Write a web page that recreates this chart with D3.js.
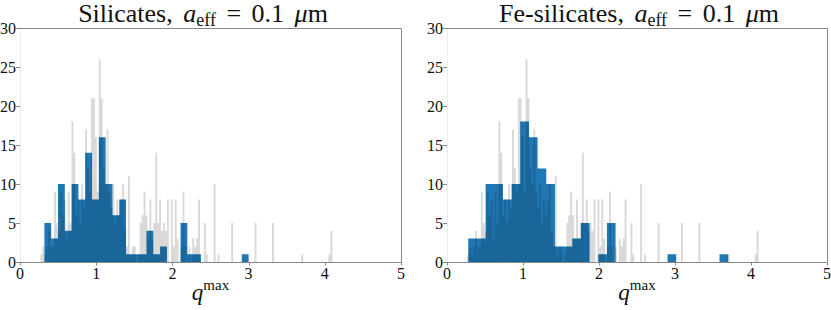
<!DOCTYPE html>
<head>
<meta charset="utf-8">
<style>
body {
  margin: 0;
  background: #fff;
}
svg text {
  font-family: "Liberation Serif", "DejaVu Serif", serif;
  fill: #111;
}
.spine {
  stroke: #888;
  stroke-width: 1;
  fill: none;
}
.tick {
  stroke: #888;
  stroke-width: 1;
}
.bluebars {
  fill: #1f77b4;
}
.graybars {
  fill: #000;
  fill-opacity: 0.15;
}
</style>
</head>
<body>
<script src="https://cdn.jsdelivr.net/npm/d3@7"></script>
<script>
// gray histogram: same in both panels, 150 bins between grayMin and grayMax
var grayMin = 0.267, grayMax = 4.10;
var grayCounts = [
   1, 2, 1, 2, 4, 2, 2, 9, 5, 4,   9, 6, 8, 3, 9, 5,18,14, 6, 8,
   5,10, 7,17,12, 9,21,21,16, 9,  26,21,12,10,17, 9, 7,10, 5, 8,
   6, 8,10, 4, 2,11, 1, 2, 2, 0,   1, 5, 6, 9, 6, 3, 8, 3, 5,14,
   5, 8, 4, 5, 4, 8, 0, 8, 2, 8,   3, 0, 2, 9, 2, 0, 2, 0, 3, 2,
   3, 8, 0, 0, 5, 1, 0, 0, 0,10,   0, 1, 0, 0, 0, 0, 0, 0, 5, 0,
   0, 0, 0, 0, 0, 0, 0, 0, 0, 0,   5, 0, 0, 0, 0, 0, 0, 0, 0, 5,
   0, 0, 0, 0, 0, 0, 0, 0, 0, 0,   0, 0, 0, 0, 1, 0, 0, 0, 0, 0,
   0, 0, 0, 0, 0, 0, 0, 0, 1, 4
];

// blue histograms, 30 bins each
var silMin = 0.32, silMax = 3.00;
var silCounts = [5, 3, 10, 4, 10, 8, 14, 8, 16, 10, 6, 8, 1, 1, 1, 4, 1, 2, 0, 0,
                 5, 1, 1, 0, 0, 0, 0, 0, 0, 1];
var feMin = 0.28, feMax = 3.70;
var feCounts = [3, 3, 10, 10, 8, 10, 18, 16, 12, 10, 2, 2, 3, 5, 0, 1, 5, 0, 0, 0,
                0, 0, 0, 1, 0, 0, 0, 0, 0, 1];

var xTicks = [0, 1, 2, 3, 4, 5];
var yTicks = [0, 5, 10, 15, 20, 25, 30];
var titleNames = ["Silicates, ", "Fe-silicates, "];

var W = 831, H = 310;
var axTop = 28, axBottom = 262;

var svg = d3.select("body").append("svg")
  .attr("width", W)
  .attr("height", H);

function edges(lo, hi, n) {
  return d3.range(n + 1).map(function(i) { return lo + i * (hi - lo) / n; });
}

function barsPath(x, y, e, counts) {
  var d = "";
  counts.forEach(function(c, i) {
    if (!c) return;
    var x0 = x(e[i]), x1 = x(e[i + 1]), y0 = y(0), y1 = y(c);
    d += "M" + x0 + "," + y0 + "H" + x1 + "V" + y1 + "H" + x0 + "Z";
  });
  return d;
}

function panel(left, right, name, lo, hi, counts, titleX) {
  var x = d3.scaleLinear().domain([0, 5]).range([left, right]);
  var y = d3.scaleLinear().domain([0, 30]).range([axBottom, axTop]);
  var g = svg.append("g");

  // faint left spine
  g.append("line").attr("x1", left + 0.5).attr("x2", left + 0.5).attr("y1", axTop).attr("y2", axBottom)
    .attr("stroke", "#ececec");

  g.append("path").attr("class", "bluebars")
    .attr("d", barsPath(x, y, edges(lo, hi, counts.length), counts));
  g.append("path").attr("class", "graybars")
    .attr("d", barsPath(x, y, edges(grayMin, grayMax, grayCounts.length), grayCounts));

  g.append("path").attr("class", "spine")
    .attr("d", "M" + left + "," + (axTop + 0.5) + "H" + (right + 0.5) + "V" + (axBottom + 0.5) + "H" + left);

  // y ticks
  yTicks.forEach(function(t) {
    var yy = Math.round(y(t)) + 0.5;
    g.append("line").attr("class", "tick")
      .attr("x1", left - 4).attr("x2", left).attr("y1", yy).attr("y2", yy)
      .attr("stroke", (t == 0 || t == 30) ? "#888" : "#dddddd");
    g.append("text").attr("x", left - 4).attr("y", y(t)).attr("dy", "0.36em")
      .attr("text-anchor", "end").attr("font-size", 16).text(t);
  });
  // x ticks
  xTicks.forEach(function(t) {
    var xx = Math.round(x(t)) + 0.5;
    g.append("line").attr("class", "tick")
      .attr("x1", xx).attr("x2", xx).attr("y1", axBottom + 0.5).attr("y2", axBottom + 3.5);
    g.append("text").attr("x", x(t)).attr("y", 279)
      .attr("text-anchor", "middle").attr("font-size", 16).text(t);
  });

  // title
  var tt = g.append("text").attr("x", titleX).attr("y", 22)
    .attr("text-anchor", "middle").attr("font-size", 26)
    .attr("word-spacing", 4);
  tt.append("tspan").text(name);
  tt.append("tspan").attr("font-style", "italic").text("a");
  tt.append("tspan").attr("font-size", 18).attr("dy", 4).text("eff");
  tt.append("tspan").attr("dy", -4).text(" = 0.1 ");
  tt.append("tspan").attr("font-style", "italic").text("\u03bc");
  tt.append("tspan").text("m");

  // x label
  var xl = g.append("text").attr("x", (left + right) / 2).attr("y", 300)
    .attr("text-anchor", "middle").attr("font-size", 23);
  xl.append("tspan").attr("font-style", "italic").text("q");
  xl.append("tspan").attr("font-size", 15).attr("dy", -10).text("max");
}

panel(20, 401, titleNames[0], silMin, silMax, silCounts, 203);
panel(447, 827, titleNames[1], feMin, feMax, feCounts, 639);
</script>
</body>
